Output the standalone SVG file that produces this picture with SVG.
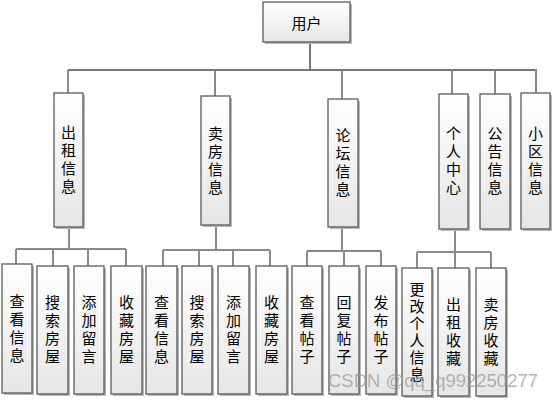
<svg xmlns="http://www.w3.org/2000/svg" width="554" height="400" viewBox="0 0 554 400">
<defs>
<linearGradient id="g" x1="0" y1="0" x2="0" y2="1">
<stop offset="0" stop-color="#ffffff"/>
<stop offset="1" stop-color="#e6e6e6"/>
</linearGradient>
<style>
.box{fill:url(#g);stroke:#5a5a5a;stroke-width:1.3}
.sh{fill:#b8b8b8}
.t{font-family:"Noto Sans CJK SC","Noto Sans CJK JP",sans-serif;font-size:15px;fill:#000;text-anchor:middle;dominant-baseline:central}
.v{writing-mode:vertical-rl;letter-spacing:3px}
.v6{letter-spacing:2px}
.c{fill:none;stroke:#8a8a8a;stroke-width:2}
.m{fill:none;stroke:#777;stroke-width:2}
.wm{font-family:"Liberation Sans",Arial,sans-serif;font-size:18px;fill:#9a9a9a;fill-opacity:0.75}
</style>
</defs>
<rect width="554" height="400" fill="#fff"/>
<g id="connectors">
<path class="m" d="M310 42V70M68 70H537"/>
<path class="c" d="M68 70V93M215 70V96M342 70V99M452 70V94M495 70V94M536 70V93"/>
<path class="c" d="M69 227V249M16 249H126M16 249V264M53 249V266M88 249V266M126 249V266"/>
<path class="c" d="M216 225V250M163 250H270M163 250V266M199 250V266M233 250V266M270 250V266"/>
<path class="c" d="M342 227V251M307 251H381M307 251V266M344 251V266M381 251V266"/>
<path class="c" d="M455 229V252M417 252H491M417 252V268M455 252V268M491 252V268"/>
</g>
<g id="n-user"><rect class="sh" x="265" y="4" width="87" height="40"/><rect class="box" x="263" y="2" width="87" height="40"/><text class="t" x="306.5" y="22">用户</text></g>
<g id="n-rent"><rect class="sh" x="56" y="95" width="29" height="134"/><rect class="box" x="54" y="93" width="29" height="134"/><text class="t v" x="68.5" y="161">出租信息</text></g>
<g id="n-sell"><rect class="sh" x="203" y="98" width="29" height="129"/><rect class="box" x="201" y="96" width="29" height="129"/><text class="t v" x="215.5" y="162">卖房信息</text></g>
<g id="n-forum"><rect class="sh" x="330" y="101" width="30" height="128"/><rect class="box" x="328" y="99" width="30" height="128"/><text class="t v" x="343" y="164">论坛信息</text></g>
<g id="n-center"><rect class="sh" x="441" y="96" width="29" height="135"/><rect class="box" x="439" y="94" width="29" height="135"/><text class="t v" x="453.5" y="162">个人中心</text></g>
<g id="n-notice"><rect class="sh" x="482" y="96" width="30" height="135"/><rect class="box" x="480" y="94" width="30" height="135"/><text class="t v" x="495" y="162">公告信息</text></g>
<g id="n-community"><rect class="sh" x="523" y="95" width="29" height="136"/><rect class="box" x="521" y="93" width="29" height="136"/><text class="t v" x="535.5" y="162">小区信息</text></g>
<g id="n-r1"><rect class="sh" x="4" y="266" width="30" height="129"/><rect class="box" x="2" y="264" width="30" height="129"/><text class="t v" x="17" y="330">查看信息</text></g>
<g id="n-r2"><rect class="sh" x="39" y="268" width="31" height="128"/><rect class="box" x="37" y="266" width="31" height="128"/><text class="t v" x="52.5" y="331">搜索房屋</text></g>
<g id="n-r3"><rect class="sh" x="76" y="268" width="30" height="128"/><rect class="box" x="74" y="266" width="30" height="128"/><text class="t v" x="89" y="331">添加留言</text></g>
<g id="n-r4"><rect class="sh" x="113" y="268" width="31" height="128"/><rect class="box" x="111" y="266" width="31" height="128"/><text class="t v" x="126.5" y="331">收藏房屋</text></g>
<g id="n-s1"><rect class="sh" x="148" y="268" width="31" height="128"/><rect class="box" x="146" y="266" width="31" height="128"/><text class="t v" x="161.5" y="331">查看信息</text></g>
<g id="n-s2"><rect class="sh" x="184" y="268" width="30" height="128"/><rect class="box" x="182" y="266" width="30" height="128"/><text class="t v" x="197" y="331">搜索房屋</text></g>
<g id="n-s3"><rect class="sh" x="220" y="268" width="31" height="128"/><rect class="box" x="218" y="266" width="31" height="128"/><text class="t v" x="233.5" y="331">添加留言</text></g>
<g id="n-s4"><rect class="sh" x="258" y="268" width="31" height="128"/><rect class="box" x="256" y="266" width="31" height="128"/><text class="t v" x="271.5" y="331">收藏房屋</text></g>
<g id="n-f1"><rect class="sh" x="294" y="268" width="30" height="128"/><rect class="box" x="292" y="266" width="30" height="128"/><text class="t v" x="307" y="331">查看帖子</text></g>
<g id="n-f2"><rect class="sh" x="331" y="268" width="30" height="128"/><rect class="box" x="329" y="266" width="30" height="128"/><text class="t v" x="344" y="331">回复帖子</text></g>
<g id="n-f3"><rect class="sh" x="368" y="268" width="30" height="128"/><rect class="box" x="366" y="266" width="30" height="128"/><text class="t v" x="381" y="331">发布帖子</text></g>
<g id="n-c1"><rect class="sh" x="404" y="270" width="30" height="128"/><rect class="box" x="402" y="268" width="30" height="128"/><text class="t v v6" x="417" y="333">更改个人信息</text></g>
<g id="n-c2"><rect class="sh" x="440" y="270" width="31" height="128"/><rect class="box" x="438" y="268" width="31" height="128"/><text class="t v" x="453.5" y="333">出租收藏</text></g>
<g id="n-c3"><rect class="sh" x="478" y="270" width="30" height="128"/><rect class="box" x="476" y="268" width="30" height="128"/><text class="t v" x="491" y="333">卖房收藏</text></g>
<text class="wm" x="328" y="387" textLength="210" lengthAdjust="spacingAndGlyphs">CSDN @qq_q992250277</text>
</svg>
